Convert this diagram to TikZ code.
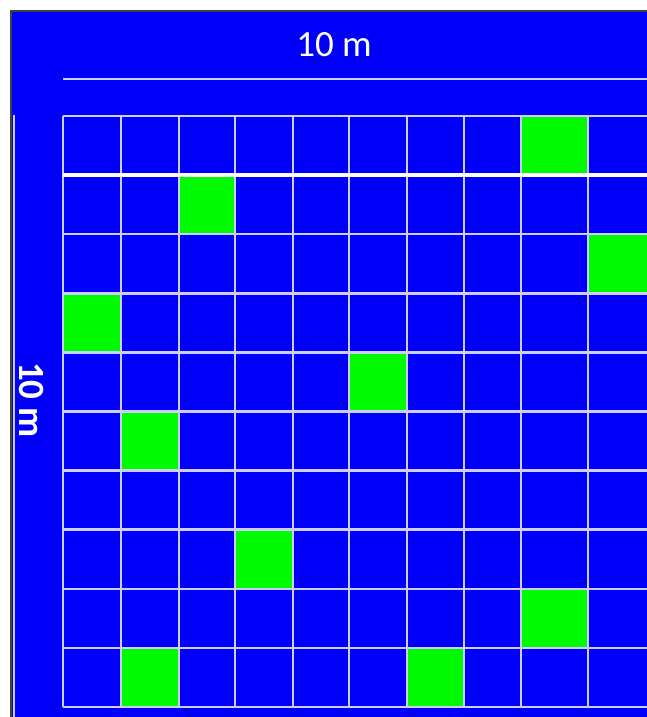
\documentclass[tikz,border=0pt]{standalone}
\usepackage{fontspec}
\setmainfont{Carlito}
\definecolor{plotblue}{RGB}{0,0,250}
\definecolor{plotgreen}{RGB}{0,250,0}
\definecolor{gridline}{RGB}{205,205,255}
\definecolor{framegray}{RGB}{64,64,64}

\begin{document}
\begin{tikzpicture}[
    x=1pt, y=-1pt,
    cellline/.style={draw=gridline, line width=2.5pt},
    dimline/.style={draw=gridline, line width=2pt},
    dimtext/.style={text=white, inner sep=0pt, font=\fontsize{37}{40}\selectfont}
]
    \useasboundingbox (0,0) rectangle (647,717);
    \fill[white] (0,0) rectangle (647,717);
    \fill[plotblue] (11,11) rectangle (647,717);

    % green cells
    \foreach \xa/\xb/\r in {521/588/1, 179/235/2, 588/647/3, 63/121/4, 349/407/5,
                            121/179/6, 235/293/8, 521/588/9, 121/179/10, 407/464/10}
        \fill[plotgreen] (\xa,{116+(\r-1)*59.1}) rectangle (\xb,{116+\r*59.1});

    % grid
    \foreach \x in {63,121,179,235,293,349,407,464,521,588}
        \draw[cellline] (\x,116) -- (\x,707);
    \foreach \r in {0,...,10}
        \draw[cellline] (63,{116+\r*59.1}) -- (647,{116+\r*59.1});
    \draw[draw=white, line width=4.5pt] (63,175.1) -- (647,175.1);

    % dimensions
    \coordinate (wstart) at (63,79);
    \coordinate (wend) at (647,79);
    \coordinate (hstart) at (14,115);
    \coordinate (hend) at (14,717);
    \draw[dimline] (wstart) -- (wend);
    \draw[dimline] (hstart) -- (hend);
    \node[dimtext] (width) at (334,45) {10 m};
    \node[dimtext, font=\fontsize{37}{40}\selectfont\bfseries, rotate=-90] (height) at (32,400) {10 m};

    % frame
    \draw[framegray, line width=2pt] (11,717) -- (11,11) -- (647,11);
\end{tikzpicture}
\end{document}
